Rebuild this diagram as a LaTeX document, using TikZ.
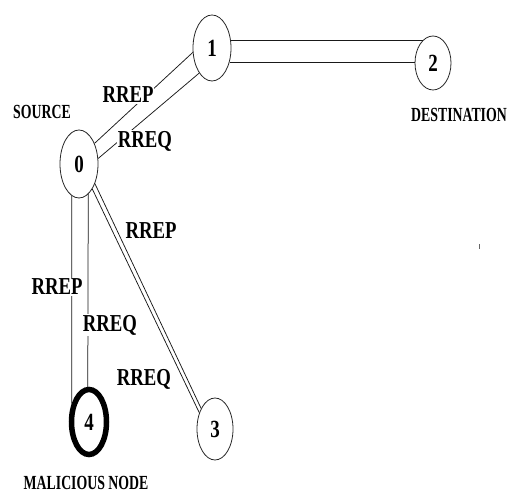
\documentclass[tikz,border=0pt]{standalone}
\usepackage{fontspec}
\setmainfont{Liberation Serif}
\usetikzlibrary{shapes.geometric}
\newcommand\vstretch[2]{\scalebox{1}[#1]{#2}}
\tikzset{
  ell/.style={ellipse, draw=black!85, line width=0.8pt, inner sep=0pt,
    font=\bfseries\fontsize{19}{19}\selectfont},
  mal/.style={ell, line width=5.5pt, draw=black},
  lbl/.style={fill=white, inner sep=1pt, font=\bfseries\fontsize{18.7}{19}\selectfont},
  capt/.style={inner sep=0pt, font=\bfseries\fontsize{13.8}{14}\selectfont},
  link/.style={line width=0.75pt, draw=black!90}
}
\begin{document}
\begin{tikzpicture}[x=1pt,y=1pt]
\useasboundingbox (0,0) rectangle (511,495);
\node[ell, minimum width=38pt, minimum height=68pt] (n0) at (79,331) {\vstretch{1.3}{0}};
\node[ell, minimum width=38pt, minimum height=66pt] (n1) at (212,447) {\vstretch{1.3}{1}};
\node[ell, minimum width=36pt, minimum height=54pt] (n2) at (433,432) {\vstretch{1.3}{2}};
\node[ell, minimum width=36pt, minimum height=62pt] (n3) at (215,66) {\vstretch{1.3}{3}};
\node[mal, minimum width=35pt, minimum height=65pt] (n4) at (89,73) {\vstretch{1.3}{4}};

\draw[link] (n0.53) -- (n1.193);
\draw[link] (n0.16) -- (n1.243);
\draw[link] (n1.21) -- (n1.21 -| n2.115);
\draw[link] (n1.-39) -- (n1.-39 -| n2.west);
\draw[link] (n0.257) -- (n4.133);
\draw[link] (n0.287) -- (n4.92);
\draw[link] (n0.309) -- (n3.124);
\draw[link] (n0.298) -- (n3.134);

\node[lbl] (l01a) at (128,400) {\vstretch{1.3}{RREP}};
\node[lbl] (l01b) at (145,354) {\vstretch{1.3}{RREQ}};
\node[lbl] (l03a) at (151,264) {\vstretch{1.3}{RREP}};
\node[lbl] (l04a) at (57,208) {\vstretch{1.3}{RREP}};
\node[lbl] (l04b) at (110,170) {\vstretch{1.3}{RREQ}};
\node[lbl] (l03b) at (144,116) {\vstretch{1.3}{RREQ}};

\node[capt] (src) at (42,383) {\vstretch{1.45}{SOURCE}};
\node[capt] (dst) at (459,380) {\vstretch{1.45}{DESTINATION}};
\node[capt] (malt) at (86,12) {\vstretch{1.45}{MALICIOUS NODE}};

\fill[black!60] (478.5,246) rectangle +(1.3,4.5);
\end{tikzpicture}
\end{document}
